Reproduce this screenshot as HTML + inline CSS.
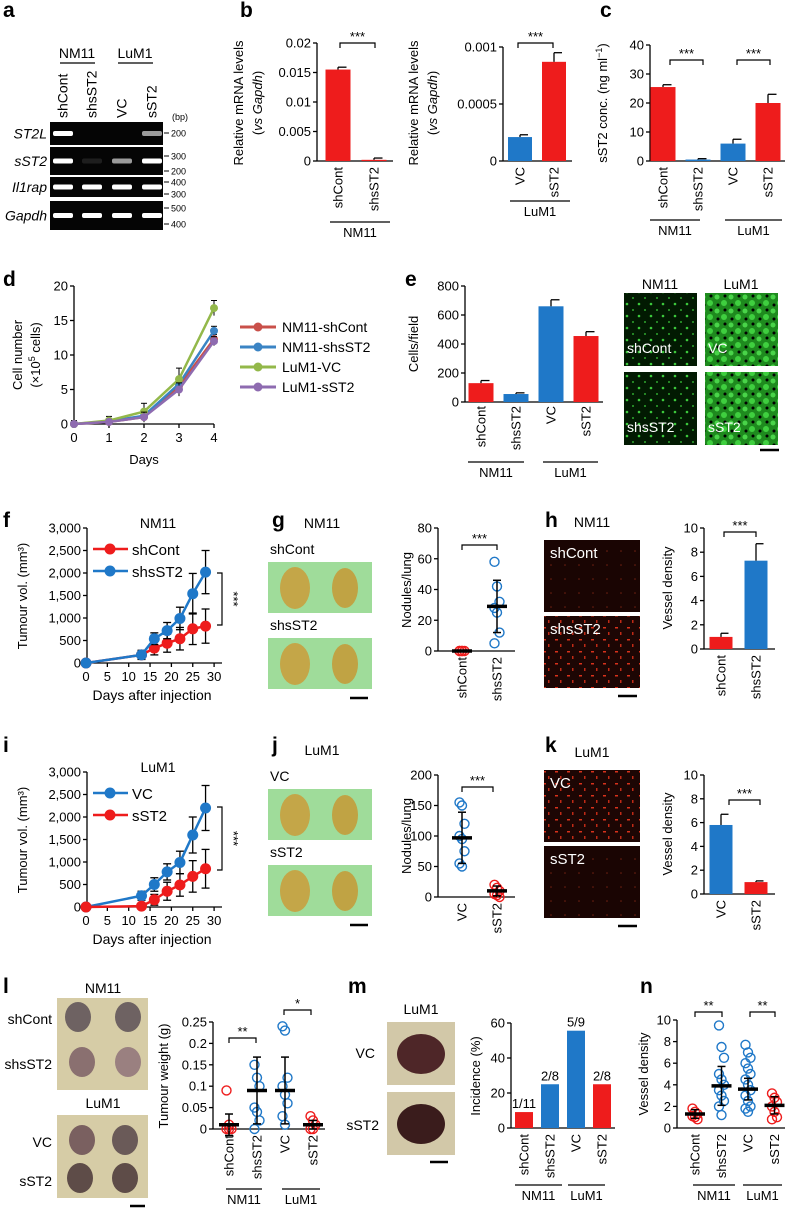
<!DOCTYPE html>
<html><head><meta charset="utf-8">
<style>
html,body{margin:0;padding:0;background:#fff;}
svg{display:block;font-family:"Liberation Sans Narrow","Liberation Sans",sans-serif;}
</style></head>
<body>
<svg id="fig" width="788" height="1210" viewBox="0 0 788 1210" xmlns="http://www.w3.org/2000/svg">
<defs>
<pattern id="greenDense" width="14" height="14" patternUnits="userSpaceOnUse"><rect width="14" height="14" fill="#1e8a1e"/><circle cx="3" cy="3" r="2.5" fill="#49d449"/><circle cx="10" cy="9" r="3" fill="#3fcf3f"/><circle cx="11" cy="2" r="1.5" fill="#000"/><circle cx="4" cy="11" r="1.5" fill="#000"/></pattern>
<pattern id="greenSparse" width="12" height="12" patternUnits="userSpaceOnUse"><rect width="12" height="12" fill="#021a02"/><circle cx="3" cy="4" r="1.3" fill="#3cc83c"/><circle cx="9" cy="10" r="1" fill="#2fa52f"/></pattern>
<pattern id="redDots" width="12" height="12" patternUnits="userSpaceOnUse"><rect width="12" height="12" fill="#1d0604"/><rect x="3" y="3" width="3" height="1.5" fill="#d8321c"/><rect x="8" y="8" width="1.5" height="3" fill="#c02a16"/></pattern>
<pattern id="redFaint" width="14" height="14" patternUnits="userSpaceOnUse"><rect width="14" height="14" fill="#1a0503"/><circle cx="5" cy="5" r="0.8" fill="#702010"/></pattern>
</defs>
</svg>
<script>
// ---- data ----
const bCats1=['shCont','shsST2']; const bVals1=[0.0155,0.0002]; const bErr1=[0.0004,0.0003];
const bCats2=['VC','sST2']; const bVals2=[0.00021,0.00087]; const bErr2=[0.00002,0.00008];
const cCats=['shCont','shsST2','VC','sST2']; const cVals=[25.5,0.5,6,20]; const cErr=[0.8,0.3,1.5,3];
const dDays=[0,1,2,3,4];
const dNames=['NM11-shCont','NM11-shsST2','LuM1-VC','LuM1-sST2'];
const dShCont=[0,0.3,1.0,5.5,12.3]; const dShsST2=[0,0.4,1.2,5.8,13.5]; const dVC=[0,0.5,1.8,6.5,16.8]; const dSST2=[0,0.3,1.0,5.0,12.0];
const dErr=[0.5,0.6,1.2,1.6,1.1];
const eCats=['shCont','shsST2','VC','sST2']; const eVals=[130,55,660,455]; const eErr=[18,8,45,30];
const fDays=[0,13,16,19,22,25,28];
const fShCont=[0,180,330,440,540,760,820]; const fShContErr=[0,100,150,200,250,350,380];
const fShsST2=[0,180,540,720,990,1540,2020]; const fShsST2Err=[0,100,130,180,250,450,480];
const gShCont=[0,0,0,0,0]; const gShsST2=[58,42,32,28,25,12,5]; const gMean=[0,29]; const gSD=[0,17];
const hCats=['shCont','shsST2']; const hVals=[1.0,7.3]; const hErr=[0.3,1.4];
const iVC=[0,250,500,780,990,1600,2200]; const iVCErr=[0,100,150,180,250,400,500];
const iSST2=[0,20,160,350,490,680,850]; const iSST2Err=[0,60,120,200,250,350,430];
const jVC=[155,150,120,100,95,75,55,50]; const jSST2=[20,15,10,5,3,0]; const jMean=[97,10]; const jSD=[42,8];
const kCats=['VC','sST2']; const kVals=[5.8,1.0]; const kErr=[0.9,0.1];
const lShCont=[0.09,0.01,0,0,0]; const lShsST2=[0.15,0.12,0.1,0.05,0.04,0.02,0]; const lVC=[0.24,0.23,0.12,0.1,0.08,0.06,0.03,0.01]; const lSST2=[0.03,0.02,0.01,0,0];
const lMean=[0.01,0.09,0.09,0.01]; const lSD=[0.025,0.078,0.078,0.01];
const mCats=['shCont','shsST2','VC','sST2']; const mVals=[9.1,25,55.6,25]; const mLabels=['1/11','2/8','5/9','2/8'];
const nShCont=[1.8,1.5,1.3,1.1,1.0,0.8]; const nShsST2=[9.5,7.5,6.5,5,4.5,4,3.5,3,2.5,2,1.2]; const nVC=[7.7,7,6.5,6,5.5,5,4.5,4,3.5,3,2.5,2,1.8,1.5]; const nSST2=[3.2,2.8,2.4,2,1.5,1,0.8];
const nMean=[1.3,3.9,3.6,2.1]; const nSD=[0.4,1.8,1.0,0.8];

const NS='http://www.w3.org/2000/svg';
const svg=document.getElementById('fig');
const RED='#ee1c1c', BLUE='#1f78c8';
function mk(tag,a,p){const e=document.createElementNS(NS,tag);for(const k in a)e.setAttribute(k,a[k]);(p||svg).appendChild(e);return e;}
function T(x,y,s,size,anchor,extra){const e=mk('text',Object.assign({x:x,y:y,'font-size':size||13,'text-anchor':anchor||'start',fill:'#000'},extra||{}));e.textContent=s;return e;}
function L(x1,y1,x2,y2,w,c){return mk('line',{x1:x1,y1:y1,x2:x2,y2:y2,stroke:c||'#000','stroke-width':w||1.3});}
function panelLabel(x,y,s){const e=T(x,y,s,21,'start',{'font-weight':'bold','font-family':'Liberation Sans, sans-serif'});

}
function yAxis(x,yb,yt,min,max,ticks,labels,name){
  const sc=v=>yb-(v-min)/(max-min)*(yb-yt);
  const ax=L(x,yb,x,yt);
  
  
  ticks.forEach((t,i)=>{L(x-4,sc(t),x,sc(t));const tl=T(x-6,sc(t)+4.5,labels[i],13,'end');
  
  });
  return sc;}
function xLine(x1,x2,y,name){const e=L(x1,y,x2,y);

}
function rotLabel(x,y,s,name,size,anchor){const e=T(0,0,s,size||13,anchor||'end',{transform:`translate(${x+4.5},${y}) rotate(-90)`});

}
function yTitle(x,yc,s,name){const e=T(0,0,'',13,'middle',{transform:`translate(${x},${yc}) rotate(-90)`});
e.textContent=s;

return e;}
function bracket(x1,x2,y,stars,name){mk('path',{d:`M${x1} ${y+5}V${y}H${x2}V${y+5}`,fill:'none',stroke:'#000','stroke-width':1.2});
const t=T((x1+x2)/2,y-2,stars,13,'middle');

}
function groupLine(x1,x2,y,label,name){L(x1,y,x2,y);const t=T((x1+x2)/2,y+15,label,13,'middle');

}
function bar(cx,w,v,err,sc,color,name){
  const y0=sc(0),y1=sc(v);
  const r=mk('rect',{x:cx-w/2,y:y1,width:w,height:Math.max(0.5,y0-y1),fill:color});
  
  
  if(err!=null){const ye=sc(v+err);L(cx,y1,cx,ye,1.3);L(cx,ye,cx+w/2-4,ye,1.3);}
}
function scatter(cx,vals,mean,sd,sc,color,name){
  vals.forEach((v,i)=>{const c=mk('circle',{cx:cx+((i%3)-1)*2.5,cy:sc(v),r:4.5,fill:'none',stroke:color,'stroke-width':1.4});
  
  });
  if(sd>0){L(cx,sc(mean-sd),cx,sc(mean+sd),1.5);L(cx-4,sc(mean+sd),cx+4,sc(mean+sd),1.5);L(cx-4,sc(mean-sd),cx+4,sc(mean-sd),1.5);}
  const m=L(cx-10,sc(mean),cx+10,sc(mean),3.5);
  
  
}

// ===== a: gel =====
panelLabel(3,17,'a');
T(77,58,'NM11',14,'middle');L(60,63,95,63);T(135,58,'LuM1',14,'middle');L(118,63,153,63);
const laneX=[63,92,122,152];
['shCont','shsST2','VC','sST2'].forEach((s,i)=>rotLabel(laneX[i],118,s,'gel-lane-'+s,14,'start'));
T(172,120,'(bp)',9);
const gel=[['ST2L',122,145,[1,0,0,0.6]],['sST2',147,175,[1,0.1,0.6,1]],['Il1rap',177,197,[1,1,1,1]],['Gapdh',201,230,[1,1,1,1]]];
gel.forEach(g=>{const r=mk('rect',{x:50,y:g[1],width:113,height:g[2]-g[1],fill:'#050505'});


T(47,(g[1]+g[2])/2+5,g[0],14,'end',{'font-style':'italic'});
g[3].forEach((o,i)=>{if(o>0)mk('rect',{x:laneX[i]-10,y:(g[1]+g[2])/2-2.5,width:20,height:5,rx:2,fill:'#fff',opacity:o});});});
[[133,'200'],[156,'300'],[171,'200'],[182,'400'],[194,'300'],[208,'500'],[224,'400']].forEach(b=>{L(164,b[0],169,b[0],1);T(171,b[0]+3.5,b[1],9);});

// ===== b =====
panelLabel(240,17,'b');
yTitle(243,103,'Relative mRNA levels','b-y-title-1');
{const t=yTitle(262,103,'','b-y-title-1b');t.innerHTML='(<tspan font-style="italic">vs Gapdh</tspan>)';}
const sb1=yAxis(317,161,43,0,0.02,[0,0.005,0.01,0.015,0.02],['0','0.005','0.01','0.015','0.02'],'b1');
xLine(317,393,161,'b1');
bCats1.forEach((c,i)=>{const cx=338+i*36;bar(cx,25,bVals1[i],bErr1[i],sb1,RED,'b1-bar-'+c);rotLabel(cx,167,c,'b1-cat-'+c);});
bracket(340,375,43,'***','b1-significance');groupLine(330,390,222,'NM11','b1-group');
yTitle(418,103,'Relative mRNA levels','b-y-title-2');
{const t=yTitle(437,103,'','b-y-title-2b');t.innerHTML='(<tspan font-style="italic">vs Gapdh</tspan>)';}
const sb2=yAxis(503,161,47,0,0.001,[0,0.0005,0.001],['0','0.0005','0.001'],'b2');
xLine(503,572,161,'b2');
bCats2.forEach((c,i)=>{const cx=520+i*34;bar(cx,24,bVals2[i],bErr2[i],sb2,i?RED:BLUE,'b2-bar-'+c);rotLabel(cx,167,c,'b2-cat-'+c);});
bracket(518,553,43,'***','b2-significance');groupLine(510,570,201,'LuM1','b2-group');

// ===== c =====
panelLabel(600,17,'c');
{const t=yTitle(607,103,'','c-y-title');t.innerHTML='sST2 conc. (ng ml<tspan dy="-5" font-size="9">−1</tspan><tspan dy="5">)</tspan>';}
const scc=yAxis(650,161,45,0,40,[0,10,20,30,40],['0','10','20','30','40'],'c');
xLine(650,785,161,'c');
cCats.forEach((c,i)=>{const cx=663+i*35;bar(cx,25,cVals[i],cErr[i],scc,(i==1||i==2)?BLUE:RED,'c-bar-'+c);rotLabel(cx,167,c,'c-cat-'+c);});
bracket(670,703,60,'***','c-sig-nm11');bracket(737,770,60,'***','c-sig-lum1');
groupLine(650,700,220,'NM11','c-group-nm11');groupLine(725,782,220,'LuM1','c-group-lum1');

// ===== d =====
panelLabel(3,286,'d');
yTitle(22,355,'Cell number','d-y-title');
{const t=yTitle(40,355,'','d-y-title-b');t.innerHTML='(×10<tspan dy="-5" font-size="9">5</tspan><tspan dy="5"> cells)</tspan>';}
const sdY=yAxis(74,424,286,0,20,[0,5,10,15,20],['0','5','10','15','20'],'d');
const sdX=v=>74+v*35;
xLine(74,214,424,'d');
dDays.forEach(d=>{L(sdX(d),424,sdX(d),428);const t=T(sdX(d),442,String(d),13,'middle');

});
{const t=T(144,464,'Days',13,'middle');}
const dSeries=[dShCont,dShsST2,dVC,dSST2]; const dCols=['#c9504a','#3b84c4','#93b84a','#8e6bb0'];
dSeries.forEach((s,k)=>{
  dDays.forEach((d,i)=>{const e=dErr[i]*(k==2?1:0.6);L(sdX(d),sdY(s[i]-e),sdX(d),sdY(s[i]+e),1);L(sdX(d)-3,sdY(s[i]+e),sdX(d)+3,sdY(s[i]+e),1);});
  const p=mk('polyline',{points:dDays.map((d,i)=>sdX(d)+','+sdY(s[i])).join(' '),fill:'none',stroke:dCols[k],'stroke-width':2.5});
  
  
  dDays.forEach((d,i)=>{const m=mk('circle',{cx:sdX(d),cy:sdY(s[i]),r:4,fill:dCols[k]});
  
  });
  const ly=327+k*20;L(240,ly,276,ly,3,dCols[k]);mk('circle',{cx:258,cy:ly,r:4.5,fill:dCols[k]});
  const lt=T(282,ly+5,dNames[k],14);
  
  
});

// ===== e =====
panelLabel(405,286,'e');
yTitle(418,344,'Cells/field','e-y-title');
const se=yAxis(465,402,286,0,800,[0,200,400,600,800],['0','200','400','600','800'],'e');
xLine(465,603,402,'e');
eCats.forEach((c,i)=>{const cx=481+i*35;bar(cx,25,eVals[i],eErr[i],se,(i==1||i==2)?BLUE:RED,'e-bar-'+c);rotLabel(cx,406,c,'e-cat-'+c);});
groupLine(468,524,462,'NM11','e-group-nm11');groupLine(543,598,462,'LuM1','e-group-lum1');
T(660,289,'NM11',14,'middle');T(741,289,'LuM1',14,'middle');
[[624,293,'greenSparse','shCont'],[705,293,'greenDense','VC'],[624,372,'greenSparse','shsST2'],[705,372,'greenDense','sST2']].forEach(m=>{
  const r=mk('rect',{x:m[0],y:m[1],width:73,height:73,fill:`url(#${m[2]})`});
  
  
  T(m[0]+3,m[1]+60,m[3],14,'start',{fill:'#fff'});});
L(760,450,779,450,2.5);

// ===== f / i line charts =====
function tumourChart(label,ly,title,top,s1,e1,c1,n1,s2,e2,c2,n2,br1,br2){
  panelLabel(3,ly,label);
  const yb=top+135;
  yTitle(27,top+68,'Tumour vol. (mm³)',label+'-y-title');
  const sy=yAxis(87,yb,top,0,3000,[0,500,1000,1500,2000,2500,3000],['0','500','1,000','1,500','2,000','2,500','3,000'],label);
  const sx=v=>86+v*4.27;
  xLine(87,222,yb,label);
  [0,5,10,15,20,25,30].forEach(d=>{L(sx(d),yb,sx(d),yb+4);const t=T(sx(d),yb+18,String(d),13,'middle');
  
  });
  {const t=T(152,yb+37,'Days after injection',14,'middle');}
  T(158,top,title,14,'middle');
  [[s1,e1,c1,n1],[s2,e2,c2,n2]].forEach((s,k)=>{
    fDays.forEach((d,i)=>{if(s[1][i]>0){L(sx(d),sy(s[0][i]-s[1][i]),sx(d),sy(s[0][i]+s[1][i]),1.3);L(sx(d)-4,sy(s[0][i]+s[1][i]),sx(d)+4,sy(s[0][i]+s[1][i]),1.3);L(sx(d)-4,sy(s[0][i]-s[1][i]),sx(d)+4,sy(s[0][i]-s[1][i]),1.3);}});
    const p=mk('polyline',{points:fDays.map((d,i)=>sx(d)+','+sy(s[0][i])).join(' '),fill:'none',stroke:s[2],'stroke-width':2.5});
    
    
    fDays.forEach((d,i)=>{const m=mk('circle',{cx:sx(d),cy:sy(s[0][i]),r:5.5,fill:s[2]});
    
    });
    const lyy=top+21+k*22;L(93,lyy,128,lyy,2.5,s[2]);mk('circle',{cx:110,cy:lyy,r:5.5,fill:s[2]});
    const lt=T(132,lyy+6,s[3],15);
    
    
  });
  mk('path',{d:`M217 ${br1}H222V${br2}H217`,fill:'none',stroke:'#000','stroke-width':1.2});
  T(0,0,'***',13,'middle',{transform:`translate(229,${(br1+br2)/2}) rotate(90)`});
}
tumourChart('f',527,'NM11',528,fShCont,fShContErr,RED,'shCont',fShsST2,fShsST2Err,BLUE,'shsST2',573,625);
tumourChart('i',752,'LuM1',772,iVC,iVCErr,BLUE,'VC',iSST2,iSST2Err,RED,'sST2',807,870);

// ===== g / j =====
function lungPanel(label,ly,title,n1,n2,top){
  panelLabel(272,ly,label);
  T(322,top-2,title,14,'middle');
  [[n1,top+12],[n2,top+88]].forEach(p=>{T(270,p[1]+12,p[0],14);
    const r=mk('rect',{x:268,y:p[1]+20,width:104,height:51,fill:'#9fdc9a'});
    
    
    mk('ellipse',{cx:295,cy:p[1]+46,rx:15,ry:21,fill:'#c4a648'});mk('ellipse',{cx:345,cy:p[1]+46,rx:13,ry:20,fill:'#c0a344'});});
  L(350,top+168,368,top+168,2.5);
}
lungPanel('g',527,'NM11','shCont','shsST2',530);
lungPanel('j',752,'LuM1','VC','sST2',757);
yTitle(411,590,'Nodules/lung','g-y-title');
const sg=yAxis(438,651,528,0,80,[0,20,40,60,80],['0','20','40','60','80'],'g');
xLine(438,515,651,'g');
scatter(462,gShCont,gMean[0],gSD[0],sg,RED,'g-shCont');scatter(497,gShsST2,gMean[1],gSD[1],sg,BLUE,'g-shsST2');
rotLabel(462,657,'shCont','g-cat-shCont');rotLabel(497,657,'shsST2','g-cat-shsST2');
bracket(462,497,545,'***','g-significance');
yTitle(411,836,'Nodules/lung','j-y-title');
const sj=yAxis(438,897,775,0,200,[0,50,100,150,200],['0','50','100','150','200'],'j');
xLine(438,515,897,'j');
scatter(462,jVC,jMean[0],jSD[0],sj,BLUE,'j-VC');scatter(497,jSST2,jMean[1],jSD[1],sj,RED,'j-sST2');
rotLabel(462,903,'VC','j-cat-VC');rotLabel(497,903,'sST2','j-cat-sST2');
bracket(462,493,787,'***','j-significance');

// ===== h / k =====
function vesselImgs(label,ly,title,n1,n2,top,p1,p2){
  panelLabel(545,ly,label);
  T(592,top-3,title,14,'middle');
  [[n1,top+10,p1],[n2,top+86,p2]].forEach(p=>{const r=mk('rect',{x:544,y:p[1],width:96,height:72,fill:`url(#${p[2]})`});
  
  
  T(550,p[1]+18,p[0],15,'start',{fill:'#fff'});});
  L(618,top+166,637,top+166,2.5);
}
vesselImgs('h',527,'NM11','shCont','shsST2',530,'redFaint','redDots');
vesselImgs('k',752,'LuM1','VC','sST2',760,'redDots','redFaint');
yTitle(672,588,'Vessel density','h-y-title');
const sh=yAxis(704,649,528,0,10,[0,2,4,6,8,10],['0','2','4','6','8','10'],'h');
xLine(704,775,649,'h');
hCats.forEach((c,i)=>{const cx=721+i*35;bar(cx,23,hVals[i],hErr[i],sh,i?BLUE:RED,'h-bar-'+c);rotLabel(cx,655,c,'h-cat-'+c);});
bracket(724,756,532,'***','h-significance');
yTitle(672,834,'Vessel density','k-y-title');
const sk=yAxis(704,894,775,0,10,[0,2,4,6,8,10],['0','2','4','6','8','10'],'k');
xLine(704,775,894,'k');
kCats.forEach((c,i)=>{const cx=721+i*35;bar(cx,23,kVals[i],kErr[i],sk,i?RED:BLUE,'k-bar-'+c);rotLabel(cx,900,c,'k-cat-'+c);});
bracket(729,760,800,'***','k-significance');

// ===== l =====
panelLabel(3,993,'l');
T(103,993,'NM11',14,'middle');T(103,1108,'LuM1',14,'middle');
[[998,'NM11'],[1115,'LuM1']].forEach(p=>{const r=mk('rect',{x:57,y:p[0],width:91,height:p[1]=='NM11'?92:83,fill:'#d6cca6'});

});
[[78,1017,'#6e6262'],[128,1017,'#6e6262'],[82,1062,'#8a7070'],[128,1062,'#9a8080'],[82,1140,'#7a6060'],[125,1140,'#6a5a58'],[80,1178,'#5e4c48'],[125,1178,'#5e4c48']].forEach(o=>mk('ellipse',{cx:o[0],cy:o[1],rx:13,ry:15,fill:o[2]}));
T(52,1024,'shCont',14,'end');T(52,1069,'shsST2',14,'end');T(52,1147,'VC',14,'end');T(52,1186,'sST2',14,'end');
L(130,1206,145,1206,2.5);
yTitle(168,1076,'Tumour weight (g)','l-y-title');
const sl=yAxis(213,1129,1022,0,0.25,[0,0.05,0.1,0.15,0.2,0.25],['0','0.05','0.1','0.15','0.2','0.25'],'l');
xLine(213,325,1129,'l');
const lCats=['shCont','shsST2','VC','sST2'];
[lShCont,lShsST2,lVC,lSST2].forEach((v,i)=>{const cx=229+i*28;scatter(cx,v,lMean[i],lSD[i],sl,(i==1||i==2)?BLUE:RED,'l-'+lCats[i]);rotLabel(cx,1135,lCats[i],'l-cat-'+lCats[i]);});
bracket(229,256,1038,'**','l-sig-nm11');bracket(284,311,1010,'*','l-sig-lum1');
groupLine(226,262,1189,'NM11','l-group-nm11');groupLine(282,320,1189,'LuM1','l-group-lum1');

// ===== m =====
panelLabel(348,993,'m');
T(421,1014,'LuM1',14,'middle');
[[1022,'VC'],[1092,'sST2']].forEach(p=>{const r=mk('rect',{x:387,y:p[0],width:68,height:63,fill:'#d2c8a8'});


mk('ellipse',{cx:421,cy:p[0]+32,rx:24,ry:20,fill:p[1]=='VC'?'#4e2628':'#3a1c1c'});});
T(375,1058,'VC',14,'end');T(379,1130,'sST2',14,'end');
L(430,1162,448,1162,2.5);
yTitle(480,1076,'Incidence (%)','m-y-title');
const sm=yAxis(511,1128,1023,0,60,[0,20,40,60],['0','20','40','60'],'m');
xLine(511,615,1128,'m');
mCats.forEach((c,i)=>{const cx=524+i*26;bar(cx,18,mVals[i],null,sm,(i==1||i==2)?BLUE:RED,'m-bar-'+c);rotLabel(cx,1134,c,'m-cat-'+c);
const t=T(cx,sm(mVals[i])-4,mLabels[i],13,'middle');

});
groupLine(515,562,1185,'NM11','m-group-nm11');groupLine(568,605,1185,'LuM1','m-group-lum1');

// ===== n =====
panelLabel(640,993,'n');
yTitle(648,1074,'Vessel density','n-y-title');
const sn=yAxis(677,1128,1020,0,10,[0,2,4,6,8,10],['0','2','4','6','8','10'],'n');
xLine(677,785,1128,'n');
const nCats=['shCont','shsST2','VC','sST2'];
[nShCont,nShsST2,nVC,nSST2].forEach((v,i)=>{const cx=695+i*26.5;scatter(cx,v,nMean[i],nSD[i],sn,(i==1||i==2)?BLUE:RED,'n-'+nCats[i]);rotLabel(cx,1134,nCats[i],'n-cat-'+nCats[i]);});
bracket(695,722,1012,'**','n-sig-nm11');bracket(750,775,1012,'**','n-sig-lum1');
groupLine(693,735,1185,'NM11','n-group-nm11');groupLine(743,782,1185,'LuM1','n-group-lum1');
</script>
</body></html>
